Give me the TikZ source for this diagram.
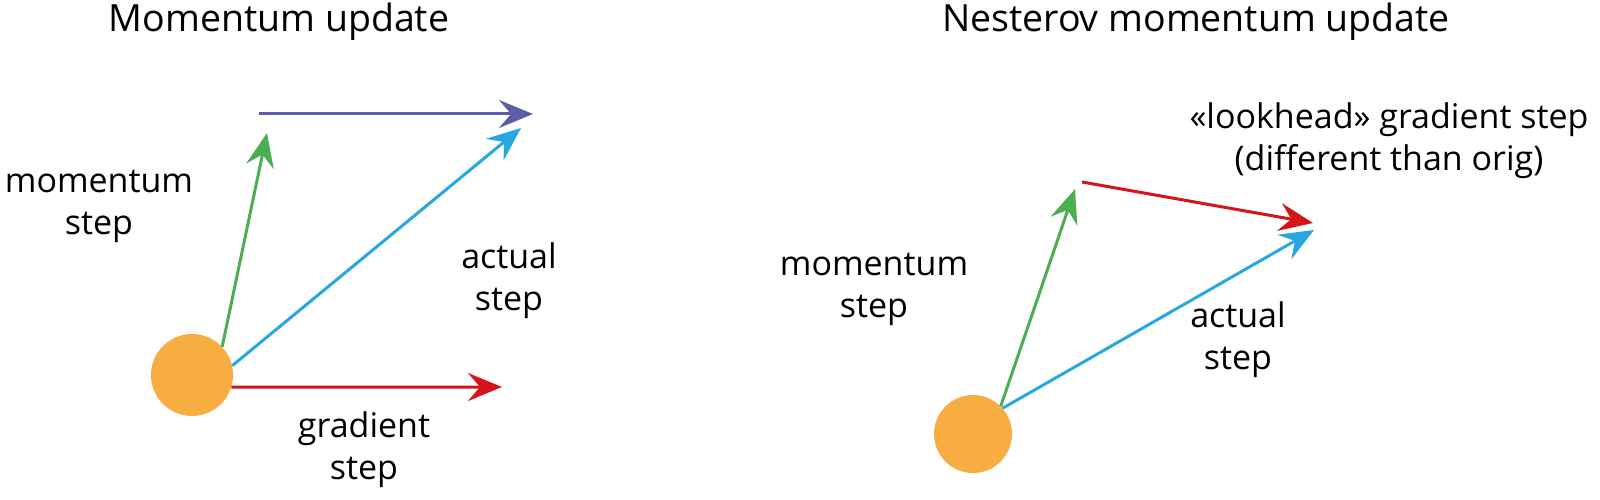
\documentclass[tikz,border=0pt]{standalone}
\usepackage{fontspec}
\setmainfont{Open Sans}
\usetikzlibrary{arrows.meta}
\definecolor{dot}{HTML}{F7AD42}
\definecolor{cgreen}{HTML}{4BAE4F}
\definecolor{cblue}{HTML}{29A8E0}
\definecolor{cred}{HTML}{D7141A}
\definecolor{cpurple}{HTML}{5B5EA6}
\tikzset{
  vec/.style={line width=3pt,-{Stealth[length=34pt,width=28pt,inset=12pt]}},
  ball/.style={circle,fill=dot,inner sep=0pt},
  lbl/.style={align=center,font=\fontsize{34}{42}\selectfont,inner sep=0pt},
  ttl/.style={font=\fontsize{37.5}{44}\selectfont,inner sep=0pt}
}
\begin{document}
\begin{tikzpicture}[x=1pt,y=-1pt]
\useasboundingbox (0,0) rectangle (1600,500);
% left
\node[ttl] (t1) at (279,22) {Momentum update};
\node[ball,minimum size=82pt] (c1) at (192,375) {};
\coordinate (g1) at (267,133);
\coordinate (p0) at (259,114);
\coordinate (p1) at (533,114);
\coordinate (b1) at (521,128);
\coordinate (r1) at (502,387);
\draw[vec,cpurple] (p0) -- (p1);
\draw[vec,cgreen] (c1.43) -- (g1);
\draw[vec,cblue] (c1.13) -- (b1);
\draw[vec,cred] (c1.-17) -- (r1);
\node[lbl] (l1) at (99,206) {momentum\\step};
\node[lbl] (l2) at (509,281) {actual\\step};
\node[lbl] (l3) at (364,450) {gradient\\step};
% right
\node[ttl] (t2) at (1196,22) {Nesterov momentum update};
\node[ball,minimum size=78pt] (c2) at (973,434) {};
\coordinate (g2) at (1075,189);
\coordinate (q0) at (1082,182);
\coordinate (q1) at (1313,223);
\coordinate (b2) at (1314,230);
\draw[vec,cgreen] (c2.45) -- (g2);
\draw[vec,cred] (q0) -- (q1);
\draw[vec,cblue] (c2.41) -- (b2);
\node[lbl] (l4) at (874,289) {momentum\\step};
\node[lbl] (l5) at (1238,340) {actual\\step};
\node[lbl] (l6) at (1389,141) {«lookhead» gradient step\\(different than orig)};
\end{tikzpicture}
\end{document}
